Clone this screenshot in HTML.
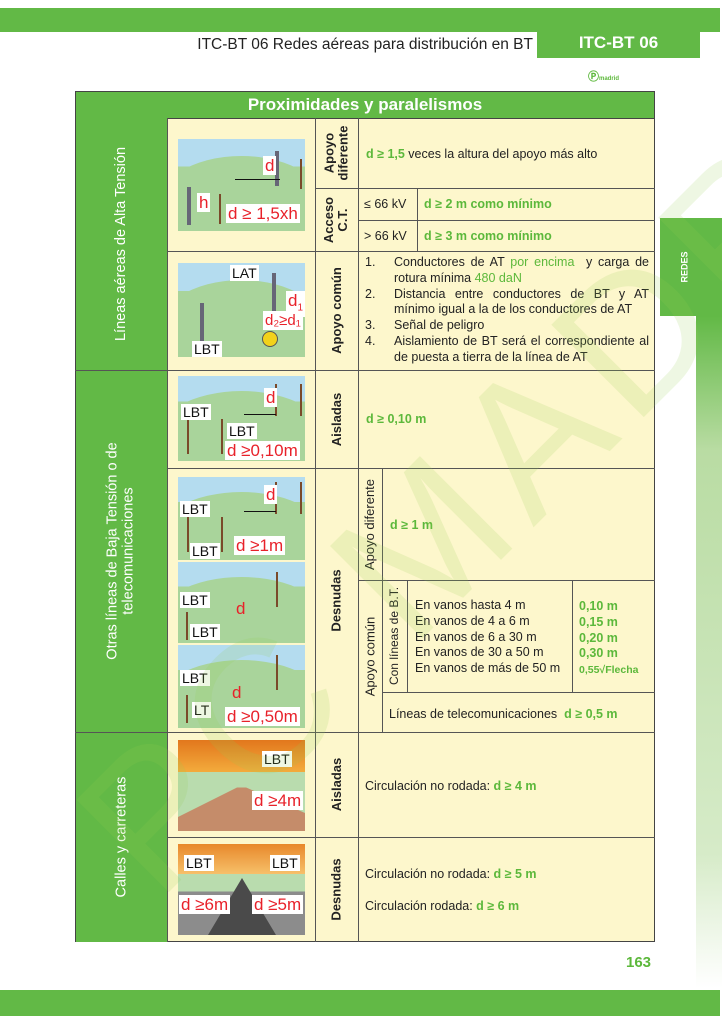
<!DOCTYPE html>
<html><head><meta charset="utf-8"><style>
*{margin:0;padding:0;box-sizing:border-box}
body{width:722px;height:1024px;background:#fff;position:relative;overflow:hidden;font-family:"Liberation Sans",sans-serif;color:#222}
.a{position:absolute}
.g{color:#5cb83b;font-weight:bold}
.y{background:#fdf7cc}
.rot{position:absolute;display:flex;align-items:center;justify-content:center}
.rot span{transform:rotate(-90deg);white-space:nowrap;text-align:center;display:block}
.pic{position:absolute;overflow:hidden;background:linear-gradient(#b4dcef 0,#b4dcef 30%,#a9d49b 30%)}
.pic .hill{position:absolute;left:-20%;width:140%;height:120%;top:18%;border-radius:50%;background:#a9d49b}
.lb{position:absolute;background:#fff;color:#111;font-size:14px;padding:0 2px;line-height:16px}
.rd{position:absolute;background:#fff;color:#e8212a;font-size:17px;padding:0 2px;line-height:19px}
.pole{position:absolute;width:2px;background:#7a4a2a}
.line{position:absolute;height:1px;background:#555}
.t12{font-size:12.5px}
</style></head><body>
<!-- header -->
<div class="a" style="left:0;top:8px;width:720px;height:24px;background:#62b946"></div>
<div class="a" style="left:537px;top:32px;width:163px;height:26px;background:#62b946"></div>
<div class="a" style="left:537px;top:32px;width:163px;height:24px;color:#fff;font-weight:bold;font-size:17px;text-align:center;line-height:22px">ITC-BT 06</div>
<div class="a" style="left:150px;top:36px;width:383px;text-align:right;font-size:15.5px;color:#222">ITC-BT 06 Redes aéreas para distribución en BT</div>
<div class="a" style="left:588px;top:68px;font-size:11px;color:#5cb83b;font-weight:bold">Ⓟ<span style="font-size:6px">madrid</span></div>
<!-- right tab -->
<div class="a" style="left:660px;top:218px;width:62px;height:98px;background:#62b946"></div>
<div class="a" style="left:696px;top:316px;width:26px;height:672px;background:linear-gradient(#62b946,#b9dca3 20%,#d6ebc8 80%,#fff)"></div>
<div class="rot" style="left:660px;top:218px;width:50px;height:98px;color:#fff;font-size:9px;font-weight:bold"><span>REDES</span></div>
<!-- footer -->
<div class="a" style="left:0;top:990px;width:720px;height:26px;background:#62b946"></div>
<div class="a g" style="left:626px;top:954px;font-size:15px">163</div>

<!-- table bg -->
<div class="a y" style="left:75px;top:91px;width:580px;height:851px;border:1.5px solid #444"></div>
<div class="a" style="left:75px;top:91px;width:580px;height:28px;background:#62b946;border:1.5px solid #444;color:#fff;font-weight:bold;font-size:17px;text-align:center;line-height:25px">Proximidades y paralelismos</div>
<div class="a" style="left:75px;top:118px;width:92px;height:824px;background:#62b946;border-left:1.5px solid #444"></div>
<!-- grid lines -->
<div class="a" style="left:167px;top:118px;width:1px;height:824px;background:#555"></div>
<div class="a" style="left:315px;top:118px;width:1px;height:824px;background:#555"></div>
<div class="a" style="left:358px;top:118px;width:1px;height:824px;background:#555"></div>
<div class="a" style="left:75px;top:370px;width:580px;height:1px;background:#555"></div>
<div class="a" style="left:75px;top:732px;width:580px;height:1px;background:#555"></div>
<div class="a" style="left:167px;top:251px;width:488px;height:1px;background:#555"></div>
<div class="a" style="left:167px;top:468px;width:488px;height:1px;background:#555"></div>
<div class="a" style="left:167px;top:837px;width:488px;height:1px;background:#555"></div>
<div class="a" style="left:315px;top:188px;width:340px;height:1px;background:#555"></div>
<div class="a" style="left:358px;top:220px;width:297px;height:1px;background:#555"></div>
<div class="a" style="left:417px;top:188px;width:1px;height:63px;background:#555"></div>
<div class="a" style="left:358px;top:580px;width:297px;height:1px;background:#555"></div>
<div class="a" style="left:382px;top:468px;width:1px;height:264px;background:#555"></div>
<div class="a" style="left:407px;top:580px;width:1px;height:112px;background:#555"></div>
<div class="a" style="left:572px;top:580px;width:1px;height:112px;background:#555"></div>
<div class="a" style="left:382px;top:692px;width:273px;height:1px;background:#555"></div>

<!-- col1 labels -->
<div class="rot" style="left:75px;top:118px;width:92px;height:252px;color:#fff;font-size:14.5px"><span>Líneas aéreas de Alta Tensión</span></div>
<div class="rot" style="left:75px;top:370px;width:92px;height:362px;color:#fff;font-size:14.5px;line-height:16px"><span>Otras líneas de Baja Tensión o de<br>telecomunicaciones</span></div>
<div class="rot" style="left:75px;top:732px;width:92px;height:210px;color:#fff;font-size:14.5px"><span>Calles y carreteras</span></div>

<!-- col3 labels -->
<div class="rot" style="left:315px;top:118px;width:43px;height:70px;font-size:13px;font-weight:bold;line-height:14px"><span>Apoyo<br>diferente</span></div>
<div class="rot" style="left:315px;top:188px;width:43px;height:63px;font-size:13px;font-weight:bold;line-height:14px"><span>Acceso<br>C.T.</span></div>
<div class="rot" style="left:315px;top:251px;width:43px;height:119px;font-size:13px;font-weight:bold"><span>Apoyo común</span></div>
<div class="rot" style="left:315px;top:370px;width:43px;height:98px;font-size:13px;font-weight:bold"><span>Aisladas</span></div>
<div class="rot" style="left:315px;top:468px;width:43px;height:264px;font-size:13px;font-weight:bold"><span>Desnudas</span></div>
<div class="rot" style="left:315px;top:732px;width:43px;height:105px;font-size:13px;font-weight:bold"><span>Aisladas</span></div>
<div class="rot" style="left:315px;top:837px;width:43px;height:105px;font-size:13px;font-weight:bold"><span>Desnudas</span></div>
<div class="rot" style="left:358px;top:468px;width:24px;height:112px;font-size:13px"><span>Apoyo diferente</span></div>
<div class="rot" style="left:358px;top:580px;width:24px;height:152px;font-size:13px"><span>Apoyo común</span></div>
<div class="rot" style="left:382px;top:580px;width:25px;height:112px;font-size:12px"><span>Con líneas de B.T.</span></div>

<!-- texts -->
<div class="a t12" style="left:366px;top:147px"><span class="g">d ≥ 1,5</span> veces la altura del apoyo más alto</div>
<div class="a t12" style="left:364px;top:197px">≤ 66 kV</div>
<div class="a t12 g" style="left:424px;top:197px">d ≥ 2 m como mínimo</div>
<div class="a t12" style="left:364px;top:229px">&gt; 66 kV</div>
<div class="a t12 g" style="left:424px;top:229px">d ≥ 3 m como mínimo</div>
<div class="a t12" style="left:365px;top:255px;width:284px;line-height:15.8px">
<div style="display:flex"><span style="width:29px">1.</span><span style="flex:1;text-align:justify;text-align-last:left">Conductores de AT <span class="g" style="font-weight:normal">por encima</span>&nbsp; y carga de rotura mínima <span class="g" style="font-weight:normal">480 daN</span></span></div>
<div style="display:flex"><span style="width:29px">2.</span><span style="flex:1;text-align:justify">Distancia entre conductores de BT y AT mínimo igual a la de los conductores de AT</span></div>
<div style="display:flex"><span style="width:29px">3.</span><span style="flex:1">Señal de peligro</span></div>
<div style="display:flex"><span style="width:29px">4.</span><span style="flex:1;text-align:justify">Aislamiento de BT será el correspondiente al de puesta a tierra de la línea de AT</span></div>
</div>
<div class="a t12 g" style="left:366px;top:412px">d ≥ 0,10 m</div>
<div class="a t12 g" style="left:390px;top:518px">d ≥ 1 m</div>
<div class="a t12" style="left:415px;top:598px;line-height:15.8px">En vanos hasta 4 m<br>En vanos de 4 a 6 m<br>En vanos de 6 a 30 m<br>En vanos de 30 a 50 m<br>En vanos de más de 50 m</div>
<div class="a t12 g" style="left:579px;top:599px;line-height:15.8px">0,10 m<br>0,15 m<br>0,20 m<br>0,30 m<br><span style="font-size:10.5px">0,55√Flecha</span></div>
<div class="a t12" style="left:389px;top:707px">Líneas de telecomunicaciones &nbsp;<span class="g">d ≥ 0,5 m</span></div>
<div class="a t12" style="left:365px;top:779px">Circulación no rodada: <span class="g">d ≥ 4 m</span></div>
<div class="a t12" style="left:365px;top:867px">Circulación no rodada: <span class="g">d ≥ 5 m</span></div>
<div class="a t12" style="left:365px;top:899px">Circulación rodada: <span class="g">d ≥ 6 m</span></div>

<!-- pictures AT -->
<div class="pic" style="left:178px;top:139px;width:127px;height:92px"><div class="hill"></div>
<div class="pole" style="left:97px;top:12px;height:35px;width:4px;background:#667"></div>
<div class="pole" style="left:122px;top:20px;height:30px"></div>
<div class="pole" style="left:9px;top:48px;height:38px;width:4px;background:#667"></div>
<div class="pole" style="left:41px;top:55px;height:30px"></div>
<div class="line" style="left:57px;top:40px;width:45px;background:#111"></div>
<div class="rd" style="left:85px;top:17px">d</div>
<div class="rd" style="left:19px;top:54px">h</div>
<div class="rd" style="left:48px;top:65px">d ≥ 1,5xh</div></div>
<div class="pic" style="left:178px;top:263px;width:127px;height:94px"><div class="hill"></div>
<div class="pole" style="left:94px;top:10px;height:50px;width:4px;background:#667"></div>
<div class="pole" style="left:22px;top:40px;height:45px;width:4px;background:#667"></div>
<div class="lb" style="left:52px;top:2px">LAT</div>
<div class="rd" style="left:108px;top:28px">d<sub style="font-size:10px">1</sub></div>
<div class="rd" style="left:85px;top:48px;font-size:15px">d₂≥d₁</div>
<div class="lb" style="left:14px;top:78px">LBT</div>
<div class="a" style="left:84px;top:68px;width:16px;height:16px;border:1px solid #555;border-radius:50%;background:#f2d21b"></div></div>

<!-- pictures BT -->
<div class="pic" style="left:178px;top:376px;width:127px;height:85px"><div class="hill"></div>
<div class="pole" style="left:97px;top:8px;height:32px"></div><div class="pole" style="left:122px;top:8px;height:32px"></div>
<div class="pole" style="left:9px;top:43px;height:35px"></div><div class="pole" style="left:43px;top:43px;height:35px"></div>
<div class="line" style="left:66px;top:38px;width:32px;background:#111"></div>
<div class="rd" style="left:86px;top:12px">d</div>
<div class="lb" style="left:3px;top:28px">LBT</div><div class="lb" style="left:49px;top:47px">LBT</div>
<div class="rd" style="left:47px;top:65px">d ≥0,10m</div></div>

<div class="pic" style="left:178px;top:477px;width:127px;height:83px"><div class="hill"></div>
<div class="pole" style="left:97px;top:5px;height:32px"></div><div class="pole" style="left:122px;top:5px;height:32px"></div>
<div class="pole" style="left:9px;top:40px;height:35px"></div><div class="pole" style="left:43px;top:40px;height:35px"></div>
<div class="line" style="left:66px;top:34px;width:32px;background:#111"></div>
<div class="rd" style="left:86px;top:8px">d</div>
<div class="lb" style="left:2px;top:24px">LBT</div><div class="lb" style="left:12px;top:66px">LBT</div>
<div class="rd" style="left:56px;top:59px">d ≥1m</div></div>

<div class="pic" style="left:178px;top:562px;width:127px;height:81px"><div class="hill"></div>
<div class="pole" style="left:98px;top:10px;height:35px"></div><div class="pole" style="left:8px;top:50px;height:28px"></div>
<div class="lb" style="left:2px;top:30px">LBT</div><div class="lb" style="left:12px;top:62px">LBT</div>
<div class="rd" style="left:56px;top:37px;background:none">d</div></div>

<div class="pic" style="left:178px;top:645px;width:127px;height:83px"><div class="hill"></div>
<div class="pole" style="left:98px;top:10px;height:35px"></div><div class="pole" style="left:8px;top:50px;height:28px"></div>
<div class="lb" style="left:2px;top:25px">LBT</div><div class="lb" style="left:14px;top:57px">LT</div>
<div class="rd" style="left:52px;top:38px;background:none">d</div>
<div class="rd" style="left:47px;top:62px">d ≥0,50m</div></div>

<!-- calles -->
<div class="pic" style="left:178px;top:740px;width:127px;height:91px;background:linear-gradient(#e2771c,#f3ab3c 35%,#b9dcae 35%,#b9dcae 52%,#c58c6a 52%)">
<div class="a" style="left:0;top:47px;width:0;height:0;border-left:60px solid #b9dcae;border-bottom:30px solid transparent"></div>
<div class="a" style="left:67px;top:47px;width:0;height:0;border-right:60px solid #b9dcae;border-bottom:26px solid transparent"></div>
<div class="lb" style="left:84px;top:11px">LBT</div>
<div class="rd" style="left:74px;top:51px">d ≥4m</div></div>
<div class="pic" style="left:178px;top:844px;width:127px;height:91px;background:linear-gradient(#e8882b,#f6c06a 33%,#b9dcae 33%,#b9dcae 52%,#8c8c8c 52%)">
<div class="a" style="left:30px;top:34px;width:0;height:0;border-left:34px solid transparent;border-right:34px solid transparent;border-bottom:57px solid #4a4a4a"></div>
<div class="lb" style="left:6px;top:11px">LBT</div><div class="lb" style="left:92px;top:11px">LBT</div>
<div class="rd" style="left:1px;top:51px">d ≥6m</div><div class="rd" style="left:74px;top:51px">d ≥5m</div></div>

<!-- watermark -->
<div class="a" style="left:-20px;top:430px;width:900px;transform:rotate(-45deg);transform-origin:center;font-size:190px;font-weight:normal;color:rgba(150,205,80,0.16);white-space:nowrap;letter-spacing:14px;pointer-events:none">PC MADRID</div>
</body></html>
